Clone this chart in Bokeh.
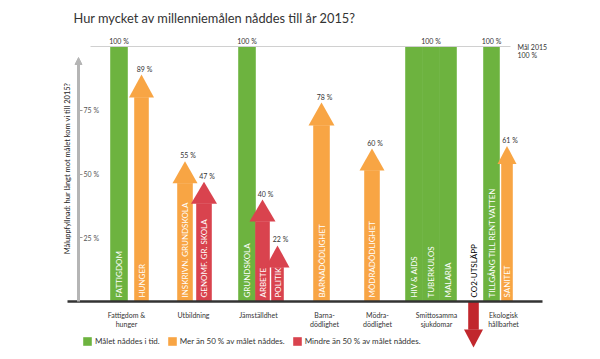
import math
from bokeh.plotting import figure
from bokeh.models import (ColumnDataSource, Range1d, LinearAxis, FixedTicker, Arrow,
                          NormalHead, Legend, LegendItem)
from bokeh.core.properties import value
from bokeh.embed import file_html
from bokeh.resources import INLINE

# ---------------- data ----------------
title_text = "Hur mycket av millenniemålen nåddes till år 2015?"
y_title = "Måluppfyllnad: hur långt mot målet kom vi till 2015?"
goals = ["Fattigdom &\nhunger", "Utbildning", "Jämställdhet", "Barna-\ndödlighet",
         "Mödra-\ndödlighet", "Smittosamma\nsjukdomar", "Ekologisk\nhållbarhet"]
indicators = ["FATTIGDOM", "HUNGER", "INSKRIVN. GRUNDSKOLA", "GENOMF. GR. SKOLA",
              "GRUNDSKOLA", "ARBETE", "POLITIK", "BARNADÖDLIGHET", "MÖDRADÖDLIGHET",
              "HIV & AIDS", "TUBERKULOS", "MALARIA", "CO2-UTSLÄPP",
              "TILLGÅNG TILL RENT VATTEN", "SANITET"]
values = [100, 89, 55, 47, 100, 40, 22, 78, 60, 100, 100, 100, -18, 100, 61]
status = ["met", "over50", "over50", "under50", "met", "under50", "under50", "over50",
          "over50", "met", "met", "met", "worse", "met", "over50"]
value_labels = ["100 %", "89 %", "55 %", "47 %", "100 %", "40 %", "22 %", "78 %", "60 %",
                "", "100 %", "", "", "100 %", "61 %"]
legend_labels = ["Målet nåddes i tid.", "Mer än 50 % av målet nåddes.",
                 "Mindre än 50 % av målet nåddes."]
y_ticks = [25, 50, 75]
target = 100
target_text = ["Mål 2015", "100 %"]

# ---------------- layout (positions / sizes, not data) ----------------
bar_x = [118.5, 141, 184.5, 203.5, 246.5, 262, 277, 321, 371.5, 413.5, 430.5, 447.5,
         473, 491, 506.5]
shaft_w = [17, 14, 15, 15, 17, 14, 12, 16, 15, 17, 17, 17, 10, 16, 11]
head_w = [0, 25, 25, 26, 0, 26, 24, 26, 25, 0, 0, 0, 19, 0, 19]
head_h = [0, 23, 22, 22, 0, 22, 22, 23, 22, 0, 0, 0, 18, 0, 18]
goal_x = [126, 193, 258, 324, 377, 436, 503]
colors = {"met": "#6db33f", "over50": "#f8a544", "under50": "#d9434e", "worse": "#c1272d"}
FONT = "Lato"

W, H = 592, 351
BASE_Y = 301          # page y of 0 %
TOP_Y = 46            # page y of 100 %
PX = 100.0 / (BASE_Y - TOP_Y)   # percent per pixel


def py(page_y):
    return (BASE_Y - page_y) * PX


p = figure(width=W, height=H, output_backend="svg", toolbar_location=None,
           x_range=Range1d(0, W), y_range=Range1d(py(H), py(0)),
           x_axis_type=None, y_axis_type=None, min_border=0,
           min_border_left=0, min_border_right=0, min_border_top=0, min_border_bottom=0)
p.outline_line_color = None
p.grid.visible = False
p.background_fill_color = "white"

# ---------------- bars / arrow shafts ----------------
left, right, bottom, top, fill = [], [], [], [], []
hx, hy, hfill = [], [], []
for i, v in enumerate(values):
    c = bar_x[i]
    col = colors[status[i]]
    left.append(c - shaft_w[i] / 2)
    right.append(c + shaft_w[i] / 2)
    fill.append(col)
    if head_w[i] == 0:
        bottom.append(0)
        top.append(v)
    elif v > 0:
        base = v - head_h[i] * PX
        bottom.append(0)
        top.append(base)
        hx.append([c - head_w[i] / 2, c + head_w[i] / 2, c])
        hy.append([base, base, v])
        hfill.append(col)
    else:
        base = v + head_h[i] * PX
        bottom.append(base)
        top.append(0)
        hx.append([c - head_w[i] / 2, c + head_w[i] / 2, c])
        hy.append([base, base, v])
        hfill.append(col)

bars_src = ColumnDataSource(dict(left=left, right=right, bottom=bottom, top=top, fill=fill))
bars = p.quad(left="left", right="right", bottom="bottom", top="top", fill_color="fill",
              line_color="fill", line_width=0.6, source=bars_src)
p.patches(xs=hx, ys=hy, fill_color=hfill, line_color=None)

# target line
p.segment(x0=[90], x1=[510], y0=[target], y1=[target], line_color="#d0d0d0", line_width=1)

# texts inside bars
in_color = ["black" if s == "worse" else "white" for s in status]
p.text(x=bar_x, y=[4 * PX] * len(bar_x), text=indicators, angle=math.pi / 2,
       text_align="left", text_baseline="middle", text_color=in_color,
       text_font=value(FONT), text_font_size="8px")

# value labels
lab_x = [c + (3 if hw > 0 else 0) for c, hw in zip(bar_x, head_w)]
lab_y = [v + 2 * PX for v in values]
p.text(x=lab_x, y=lab_y, text=value_labels, text_align="center", text_baseline="bottom",
       text_color="#333333", text_font=value(FONT), text_font_size="7px")

# target annotation
p.text(x=[517, 517], y=[py(46), py(54)], text=target_text, text_align="left",
       text_baseline="middle", text_color="#333333", text_font=value(FONT),
       text_font_size="7px")

# title
p.text(x=[73], y=[py(17)], text=[title_text], text_align="left", text_baseline="middle",
       text_color="#333333", text_font=value(FONT), text_font_size="12.8px")

# y-axis title
p.text(x=[67], y=[py(168)], text=[y_title], angle=math.pi / 2, text_align="center",
       text_baseline="middle", text_color="#222222", text_font=value(FONT),
       text_font_size="7.5px")

# ---------------- axes ----------------
p.add_layout(Arrow(end=NormalHead(size=7, fill_color="#b5b5b5", line_color="#b5b5b5",
                                  line_width=1),
                   x_start=78, y_start=0, x_end=78, y_end=py(57),
                   line_color="#b5b5b5", line_width=3))

yax = LinearAxis(fixed_location=78, ticker=FixedTicker(ticks=y_ticks),
                 major_label_overrides={t: f"{t} %" for t in y_ticks},
                 axis_line_color=None, major_tick_in=0, major_tick_out=4,
                 major_tick_line_color="#999999", minor_tick_line_color=None,
                 major_label_text_font_size="7px", major_label_text_color="#555555",
                 major_label_text_font=FONT, major_label_standoff=1)
p.add_layout(yax, "right")

xax = LinearAxis(fixed_location=0, bounds=(67, 542), ticker=FixedTicker(ticks=goal_x),
                 major_label_overrides={x: g for x, g in zip(goal_x, goals)},
                 axis_line_color="#333333", axis_line_width=2.5,
                 major_tick_line_color=None, minor_tick_line_color=None,
                 major_label_text_font_size="7px", major_label_text_color="#333333",
                 major_label_text_font=FONT, major_label_standoff=3)
p.add_layout(xax, "below")

# ---------------- legend ----------------
first_idx = [status.index(s) for s in ["met", "over50", "under50"]]
legend = Legend(items=[LegendItem(label=l, renderers=[bars], index=k)
                       for l, k in zip(legend_labels, first_idx)],
                location=(82, H - 346), orientation="horizontal",
                background_fill_alpha=0, border_line_alpha=0,
                glyph_width=10, glyph_height=10, label_height=10,
                label_text_font_size="8px", label_text_font=FONT,
                label_text_color="#333333", spacing=7, label_standoff=3,
                padding=0, margin=0)
p.add_layout(legend)

open("out.html", "w").write(file_html(p, INLINE))
